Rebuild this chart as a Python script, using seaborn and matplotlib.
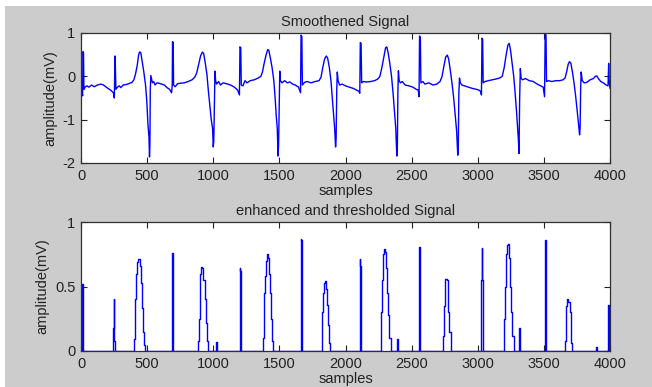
import matplotlib
matplotlib.use("Agg")
import matplotlib.pyplot as plt
import pandas as pd
import seaborn as sns
from matplotlib.patches import Rectangle

# Smoothened ECG signal, key points (sample, mV)
smooth_x = [
    0, 8, 12, 15, 19, 22, 30, 45, 60, 80, 100, 125, 150, 170, 200, 225, 245, 252,
    257, 260, 264, 275, 290, 300, 320, 340, 360, 385, 400, 412, 425, 435, 442, 452, 462, 475, 488, 498, 506, 514, 518, 521, 524, 528,
    533, 540, 550, 560, 575, 590, 610, 630, 650, 670, 685, 690, 692, 697, 700, 712, 730, 750, 780, 810, 840, 860, 875, 890, 905, 918, 928, 940, 952, 962, 975, 985, 995, 1000, 1004, 1010, 1013,
    1018, 1025, 1040, 1055, 1075, 1100, 1130, 1160, 1185, 1198, 1202, 1208, 1212, 1225, 1240, 1255, 1280, 1310, 1340, 1360, 1372, 1385, 1400, 1412, 1420, 1432, 1445, 1458, 1468, 1476, 1484, 1490, 1494, 1500, 1503,
    1508, 1520, 1540, 1560, 1580, 1600, 1620, 1645, 1660, 1664, 1670, 1674, 1690, 1710, 1740, 1770, 1800, 1815, 1828, 1842, 1855, 1865, 1878, 1890, 1900, 1910, 1918, 1925, 1929, 1934, 1938,
    1944, 1955, 1975, 2000, 2030, 2060, 2085, 2100, 2108, 2112, 2118, 2122, 2135, 2160, 2190, 2220, 2245, 2260, 2275, 2290, 2303, 2312, 2322, 2335, 2348, 2360, 2370, 2380, 2388, 2392, 2396, 2400,
    2406, 2415, 2430, 2450, 2480, 2510, 2535, 2550, 2556, 2560, 2566, 2570, 2585, 2600, 2630, 2660, 2690, 2715, 2730, 2745, 2758, 2770, 2780, 2792, 2805, 2818, 2830, 2840, 2849, 2853, 2857, 2862,
    2868, 2880, 2900, 2930, 2960, 2990, 3010, 3022, 3028, 3032, 3037, 3041, 3055, 3080, 3110, 3140, 3165, 3185, 3200, 3215, 3228, 3238, 3248, 3260, 3272, 3283, 3293, 3302, 3308, 3312, 3317, 3322,
    3328, 3340, 3360, 3390, 3420, 3450, 3475, 3495, 3505, 3510, 3516, 3520, 3535, 3560, 3590, 3620, 3645, 3660, 3672, 3684, 3694, 3704, 3716, 3728, 3740, 3752, 3762, 3770, 3774, 3778,
    3782, 3790, 3805, 3825, 3850, 3875, 3890, 3900, 3912, 3930, 3950, 3970, 3985, 3990, 3994, 4000,
]
smooth_y = [
    -0.43, -0.35, -0.45, 0.57, 0.55, -0.30, -0.25, -0.22, -0.25, -0.20, -0.24, -0.20, -0.18, -0.20, -0.27, -0.32, -0.38, -0.50,
    0.47, 0.20, -0.30, -0.25, -0.22, -0.26, -0.20, -0.19, -0.17, -0.14, -0.08, 0.05, 0.25, 0.48, 0.56, 0.55, 0.35, 0.10, -0.20, -0.60, -1.10, -1.40, -1.86, -1.60, -0.30, 0.02,
    -0.05, -0.15, -0.12, -0.20, -0.15, -0.16, -0.18, -0.20, -0.26, -0.30, -0.38, -0.20, 0.80, 0.78, -0.20, -0.24, -0.17, -0.16, -0.15, -0.12, -0.08, -0.02, 0.08, 0.28, 0.48, 0.56, 0.52, 0.30, 0.05, -0.30, -0.70, -1.00, -1.20, -1.63, -1.50, -0.50, 0.12,
    -0.10, -0.18, -0.12, -0.20, -0.15, -0.17, -0.20, -0.25, -0.32, -0.43, 0.68, 0.66, -0.20, -0.22, -0.10, -0.15, -0.10, -0.08, -0.04, 0.00, 0.10, 0.30, 0.50, 0.62, 0.60, 0.42, 0.20, -0.10, -0.50, -0.90, -1.20, -1.84, -1.60, -0.40, 0.12,
    -0.10, -0.15, -0.10, -0.15, -0.13, -0.18, -0.20, -0.25, -0.38, 0.95, 0.92, -0.20, -0.14, -0.12, -0.15, -0.12, -0.10, -0.02, 0.20, 0.40, 0.47, 0.42, 0.20, -0.10, -0.50, -0.90, -1.20, -1.63, -1.45, -0.30, 0.10,
    -0.10, -0.20, -0.18, -0.22, -0.25, -0.28, -0.32, -0.34, -0.39, 0.78, 0.76, -0.15, -0.12, -0.13, -0.12, -0.10, -0.06, 0.00, 0.20, 0.45, 0.66, 0.68, 0.55, 0.30, 0.00, -0.40, -0.80, -1.20, -1.84, -1.70, -0.40, 0.13,
    -0.10, -0.15, -0.12, -0.20, -0.22, -0.25, -0.30, -0.32, -0.47, 0.93, 0.90, -0.15, -0.12, -0.18, -0.15, -0.20, -0.18, -0.12, 0.00, 0.25, 0.45, 0.49, 0.40, 0.15, -0.15, -0.50, -0.90, -1.25, -1.82, -1.60, -0.40, -0.04,
    -0.15, -0.20, -0.22, -0.25, -0.28, -0.30, -0.32, -0.35, -0.43, 0.88, 0.85, -0.15, -0.12, -0.10, -0.08, -0.06, -0.04, 0.00, 0.20, 0.50, 0.72, 0.76, 0.60, 0.30, 0.00, -0.40, -0.80, -1.20, -1.50, -1.78, -0.50, 0.18,
    -0.05, -0.08, -0.05, -0.10, -0.12, -0.18, -0.22, -0.25, -0.47, 1.00, 0.95, -0.12, -0.10, -0.12, -0.10, -0.10, -0.08, -0.04, 0.10, 0.28, 0.34, 0.30, 0.10, -0.15, -0.45, -0.80, -1.10, -1.35, -1.20, -0.30,
    0.10, -0.10, -0.15, -0.14, -0.08, -0.05, 0.00, 0.01, -0.05, -0.12, -0.15, -0.20, -0.22, 0.30, -0.10, -0.28,
]

# Enhanced and thresholded signal (sample, mV)
thresh_x = [
    0, 8, 8, 12, 12, 18, 18,
    245, 245, 249, 249, 253, 253, 260, 260,
    402, 402, 408, 412, 418, 425, 440, 448, 456, 464, 472, 480, 484,
    688, 690, 696, 698,
    888, 888, 895, 900, 906, 914, 922, 930, 938, 946, 954, 962,
    1020, 1022, 1028, 1030,
    1200, 1202, 1208, 1210,
    1375, 1378, 1385, 1390, 1396, 1402, 1410, 1418, 1425, 1432, 1440, 1448, 1455,
    1660, 1662, 1668, 1670,
    1820, 1822, 1828, 1835, 1842, 1850, 1858, 1864, 1872, 1880, 1886,
    2105, 2107, 2112, 2115,
    2265, 2268, 2275, 2282, 2290, 2298, 2305, 2312, 2320, 2328, 2336, 2345,
    2388, 2390, 2396, 2398,
    2555, 2557, 2560, 2565, 2568,
    2738, 2740, 2746, 2752, 2760, 2768, 2775, 2782, 2790, 2798, 2805,
    3026, 3028, 3032, 3038, 3040,
    3195, 3198, 3205, 3212, 3220, 3228, 3236, 3243, 3250, 3258, 3266, 3275,
    3315, 3316, 3322, 3324,
    3505, 3507, 3513, 3517, 3520,
    3660, 3662, 3668, 3674, 3682, 3690, 3698, 3705, 3712, 3718,
    3890, 3894, 3900, 3904,
    3985, 3990, 3994, 3996, 4000,
]
thresh_y = [
    0, 0, 0.52, 0.52, 0.41, 0.41, 0,
    0, 0.18, 0.18, 0.40, 0.40, 0.08, 0.08, 0,
    0, 0.09, 0.30, 0.40, 0.60, 0.69, 0.71, 0.66, 0.53, 0.33, 0.15, 0.05, 0,
    0, 0.76, 0.74, 0,
    0, 0.08, 0.25, 0.45, 0.60, 0.65, 0.64, 0.55, 0.40, 0.22, 0.08, 0,
    0, 0.07, 0.07, 0,
    0, 0.64, 0.62, 0,
    0, 0.10, 0.25, 0.45, 0.58, 0.70, 0.75, 0.72, 0.60, 0.45, 0.25, 0.08, 0,
    0, 0.87, 0.86, 0,
    0, 0.10, 0.30, 0.45, 0.53, 0.54, 0.48, 0.36, 0.20, 0.06, 0,
    0, 0.71, 0.66, 0,
    0, 0.08, 0.30, 0.55, 0.75, 0.79, 0.77, 0.64, 0.45, 0.28, 0.10, 0,
    0, 0.09, 0.09, 0,
    0, 0.45, 0.81, 0.50, 0,
    0, 0.12, 0.35, 0.50, 0.56, 0.55, 0.45, 0.30, 0.15, 0.03, 0,
    0, 0.55, 0.80, 0.55, 0,
    0, 0.08, 0.25, 0.50, 0.75, 0.82, 0.83, 0.72, 0.50, 0.30, 0.12, 0,
    0, 0.18, 0.16, 0,
    0, 0.80, 0.86, 0.30, 0,
    0, 0.08, 0.25, 0.35, 0.40, 0.38, 0.30, 0.18, 0.06, 0,
    0, 0.03, 0.03, 0,
    0, 0.36, 0.30, 0, 0,
]

x_ticks = [0, 500, 1000, 1500, 2000, 2500, 3000, 3500, 4000]
top_yticks = [-2, -1, 0, 1]
bottom_yticks = [0, 0.5, 1]

smooth_df = pd.DataFrame({"sample": smooth_x, "mV": smooth_y})
thresh_df = pd.DataFrame({"sample": thresh_x, "mV": thresh_y})

sns.set_style("ticks")
plt.rcParams["font.family"] = ["Liberation Sans", "DejaVu Sans"]

fig = plt.figure(figsize=(6.52, 3.87), dpi=100, facecolor="white")
# matlab-style grey figure background (screenshot has a thin white border top/left)
fig.patches.append(Rectangle((5 / 652, 0), 1, 381 / 387, transform=fig.transFigure,
                             facecolor="#cccccc", edgecolor="none", zorder=-10))

ax1 = fig.add_axes([81 / 652, 1 - 163 / 387, 529 / 652, 130 / 387])
ax2 = fig.add_axes([81 / 652, 1 - 351 / 387, 529 / 652, 129 / 387])

sns.lineplot(data=smooth_df, x="sample", y="mV", ax=ax1, sort=False, estimator=None,
             color="#0000ff", linewidth=1.0)
# stair look of the thresholded output
sns.lineplot(data=thresh_df, x="sample", y="mV", ax=ax2, sort=False, estimator=None,
             color="#0000ff", linewidth=1.0, drawstyle="steps-mid")


def style(ax, title, yticks):
    ax.set_facecolor("white")
    ax.set_xlim(0, 4000)
    ax.set_ylim(yticks[0], yticks[-1])
    ax.set_xticks(x_ticks)
    ax.set_yticks(yticks)
    ax.set_yticklabels([f"{t:g}" for t in yticks])
    ax.tick_params(direction="in", top=True, right=True, length=4, width=0.8,
                   labelsize=10.5, colors="#222222", pad=4)
    for s in ax.spines.values():
        s.set_visible(True)
        s.set_color("#303030")
        s.set_linewidth(0.9)
    ax.set_title(title, fontsize=10.5, color="#222222", pad=5)
    ax.set_xlabel("samples", fontsize=10.5, color="#222222", labelpad=1)
    ax.set_ylabel("amplitude(mV)", fontsize=10.5, color="#222222", labelpad=4)


style(ax1, "Smoothened Signal", top_yticks)
style(ax2, "enhanced and thresholded Signal", bottom_yticks)

fig.savefig("out.png", dpi=100, facecolor=fig.get_facecolor())
